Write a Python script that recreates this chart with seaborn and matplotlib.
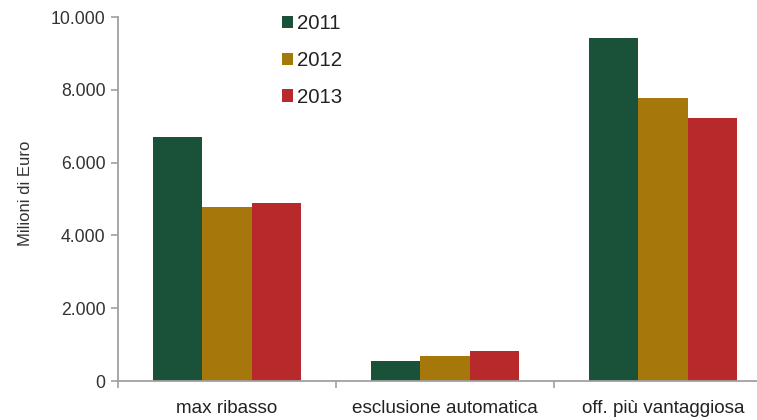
import matplotlib
matplotlib.use("Agg")
import matplotlib.pyplot as plt
from matplotlib.ticker import FuncFormatter, FixedLocator
import seaborn as sns
import pandas as pd

categories = ["max ribasso", "esclusione automatica", "off. più vantaggiosa"]
years = ["2011", "2012", "2013"]
values_2011 = [6700, 550, 9420]
values_2012 = [4780, 690, 7770]
values_2013 = [4890, 820, 7220]
palette = ["#1a5239", "#a6780c", "#b8292b"]

rows = []
for year, vals in zip(years, [values_2011, values_2012, values_2013]):
    for cat, v in zip(categories, vals):
        rows.append({"categoria": cat, "anno": year, "valore": v})
df = pd.DataFrame(rows)

sns.set_style("white")
plt.rcParams["font.family"] = ["Liberation Sans", "DejaVu Sans"]

fig = plt.figure(figsize=(7.57, 4.2), dpi=100)
ax = fig.add_axes([118 / 757, 39 / 420, (772 - 118) / 757, 364 / 420])

sns.barplot(data=df, x="categoria", y="valore", hue="anno", order=categories,
            hue_order=years, palette=palette, width=0.675, saturation=1,
            edgecolor="none", ax=ax)

ax.set_ylim(0, 10000)
ax.set_xlim(-0.5, 2.5)
ax.set_yticks(range(0, 10001, 2000))
ax.yaxis.set_major_formatter(FuncFormatter(lambda v, p: f"{int(v):,}".replace(",", ".")))
ax.set_xlabel("")
ax.set_ylabel("Milioni di Euro", fontsize=12, color="#333333", labelpad=0)
ax.yaxis.set_label_coords(33 / 757, 1 - 193 / 420, transform=fig.transFigure)

for s in ["top", "right"]:
    ax.spines[s].set_visible(False)
for s in ["left", "bottom"]:
    ax.spines[s].set_color("#a0a0a0")
    ax.spines[s].set_linewidth(1.3)

ax.tick_params(axis="y", which="major", length=5, width=1.2, color="#a0a0a0",
               labelsize=12.7, labelcolor="#333333", left=True, pad=4)
ax.tick_params(axis="x", which="major", length=0, labelsize=13.6,
               labelcolor="#222222", pad=14)
ax.xaxis.set_minor_locator(FixedLocator([-0.5, 0.5, 1.5, 2.5]))
ax.tick_params(axis="x", which="minor", length=5, width=1.2, color="#a0a0a0",
               bottom=True, direction="out")

handles, labels = ax.get_legend_handles_labels()
leg = ax.legend(handles, labels, loc="upper left", bbox_to_anchor=(274 / 757, 1 - 6 / 420),
                bbox_transform=fig.transFigure, frameon=False, fontsize=14.7,
                handlelength=0.55, handleheight=0.55, handletextpad=0.2,
                labelspacing=0.87, borderaxespad=0)
for t in leg.get_texts():
    t.set_color("#222222")

fig.savefig("out.png", dpi=100, facecolor="white")
